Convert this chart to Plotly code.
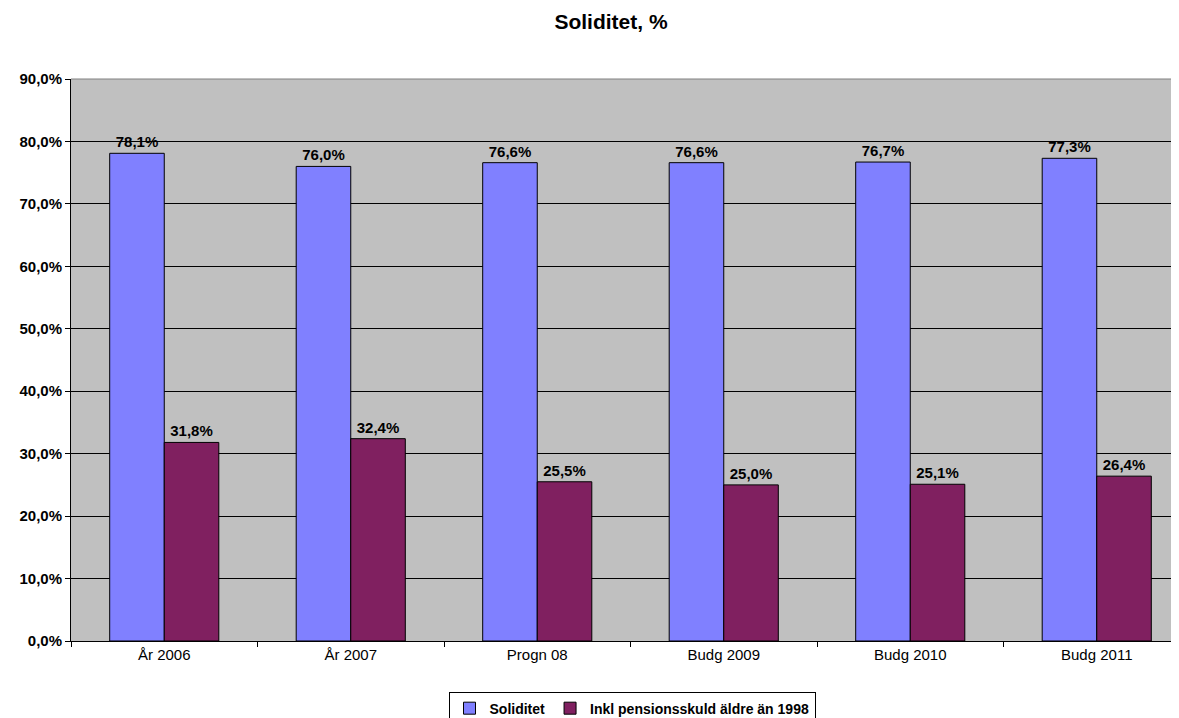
import plotly.graph_objects as go

categories = ["År 2006", "År 2007", "Progn 08", "Budg 2009", "Budg 2010", "Budg 2011"]
soliditet = [78.1, 76.0, 76.6, 76.6, 76.7, 77.3]
inkl_pension = [31.8, 32.4, 25.5, 25.0, 25.1, 26.4]
y_ticks = [0, 10, 20, 30, 40, 50, 60, 70, 80, 90]
y_tick_labels = [f"{v:.1f}%".replace(".", ",") for v in y_ticks]

FONT = "Liberation Sans, Arial, sans-serif"
W, H = 1182, 710  # page body adds an 8px offset
PW = W - 63

def labels(vals):
    return [f"{v:.1f}%".replace(".", ",") for v in vals]

fig = go.Figure()
fig.add_trace(go.Bar(
    x=categories, y=soliditet, name="<b>Soliditet</b>",
    marker=dict(color="#8080FF", line=dict(color="black", width=1)),
    text=labels(soliditet), texttemplate="<b>%{text}</b>", textposition="outside",
    constraintext="none",
    textfont=dict(family=FONT, size=15, color="black"),
    cliponaxis=False,
))
fig.add_trace(go.Bar(
    x=categories, y=inkl_pension, name="<b>Inkl pensionsskuld äldre än 1998</b>",
    marker=dict(color="#802060", line=dict(color="black", width=1)),
    text=labels(inkl_pension), texttemplate="<b>%{text}</b>", textposition="outside",
    constraintext="none",
    textfont=dict(family=FONT, size=15, color="black"),
    cliponaxis=False,
))

fig.add_shape(type="line", xref="paper", yref="paper", x0=0, x1=1, y0=1, y1=1,
              line=dict(color="#808080", width=1))

fig.update_layout(
    width=W, height=H,
    autosize=False,
    margin=dict(l=63, r=0, t=71, b=77, autoexpand=False),
    paper_bgcolor="white", plot_bgcolor="#C0C0C0",
    barmode="group", bargap=0.415, bargroupgap=0,
    font=dict(family=FONT, color="black"),
    title=dict(text="<b>Soliditet, %</b>", x=(603 - 63) / PW, xref="paper", xanchor="center",
               y=1 - 14 / H, yref="container", yanchor="middle",
               font=dict(family=FONT, size=21, color="black")),
    showlegend=True,
    legend=dict(orientation="h", x=(624 - 63) / PW, xanchor="center",
                y=-0.09, yanchor="top",
                bordercolor="black", borderwidth=1, bgcolor="white",
                font=dict(family=FONT, size=14, color="black"),
                tracegroupgap=0, itemwidth=30),
    xaxis=dict(showline=True, linecolor="black", linewidth=1,
               ticks="outside", ticklen=5, tickcolor="black", tickson="boundaries",
               tickfont=dict(family=FONT, size=15, color="black"),
               tickangle=0, showgrid=False),
    yaxis=dict(range=[0, 90], tickvals=y_ticks, ticktext=[f"<b>{t}</b>" for t in y_tick_labels],
               showline=True, linecolor="black", linewidth=1,
               ticks="outside", ticklen=5, tickcolor="black",
               showgrid=True, gridcolor="black", gridwidth=1,
               tickfont=dict(family=FONT, size=15, color="black"),
               zeroline=False),
)

fig.write_html("out.html")
